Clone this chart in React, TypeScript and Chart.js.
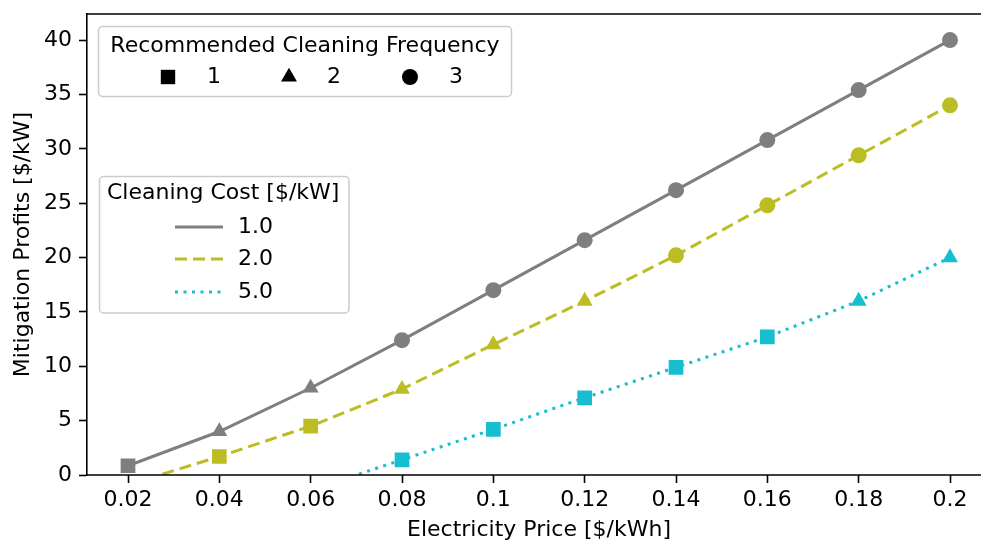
import { useEffect, useRef } from "react";
import { Chart, registerables } from "chart.js";

Chart.register(...registerables);

// Electricity price (x) in $/kWh
const prices = [0.02, 0.04, 0.06, 0.08, 0.1, 0.12, 0.14, 0.16, 0.18, 0.2];

// Mitigation profits in $/kW for each cleaning cost
const profitCost1 = [0.85, 4.0, 8.0, 12.4, 17.0, 21.6, 26.2, 30.8, 35.4, 40.0];
const profitCost2 = [-0.9, 1.7, 4.5, 7.9, 12.0, 16.0, 20.2, 24.8, 29.4, 34.0];
const profitCost5 = [null, null, -1.4, 1.4, 4.2, 7.1, 9.9, 12.7, 16.0, 20.0];

// Recommended cleaning frequency at each price
const freqCost1 = [1, 2, 2, 3, 3, 3, 3, 3, 3, 3];
const freqCost2 = [1, 1, 1, 2, 2, 2, 3, 3, 3, 3];
const freqCost5 = [1, 1, 1, 1, 1, 1, 1, 1, 2, 2];

const costLabels = ["1.0", "2.0", "5.0"];
const freqLabels = ["1", "2", "3"];

const xTicks = [0.02, 0.04, 0.06, 0.08, 0.1, 0.12, 0.14, 0.16, 0.18, 0.2];
const yTicks = [0, 5, 10, 15, 20, 25, 30, 35, 40];

const FONT = '"DejaVu Sans", sans-serif';
const FS = 22;
const GRAY = "#7f7f7f";
const OLIVE = "#bcbd22";
const CYAN = "#17becf";
const LINE_W = 3;
const DASH = [12, 6];
const DOT = [3, 5.5];
const SPINE_W = 1.6;

// pixel placement of the first and last price ticks
const X_FIRST_PX = 128;
const X_LAST_PX = 950;

const styleFor = (f: number) => (f === 1 ? "rect" : f === 2 ? "triangle" : "circle");
const radiusFor = (f: number) => (f === 1 ? 10.4 : f === 2 ? 9.2 : 8);

function series(
  label: string,
  values: (number | null)[],
  freqs: number[],
  color: string,
  dash: number[]
) {
  return {
    label,
    data: prices.map((x, i) => ({ x, y: values[i] })),
    borderColor: color,
    backgroundColor: color,
    borderWidth: LINE_W,
    borderDash: dash,
    pointStyle: freqs.map(styleFor),
    pointRadius: freqs.map(radiusFor),
    pointBackgroundColor: color,
    pointBorderColor: color,
    pointBorderWidth: 0,
    tension: 0,
  };
}

function roundRect(ctx: CanvasRenderingContext2D, x: number, y: number, w: number, h: number, r: number) {
  ctx.beginPath();
  ctx.moveTo(x + r, y);
  ctx.lineTo(x + w - r, y);
  ctx.arcTo(x + w, y, x + w, y + r, r);
  ctx.lineTo(x + w, y + h - r);
  ctx.arcTo(x + w, y + h, x + w - r, y + h, r);
  ctx.lineTo(x + r, y + h);
  ctx.arcTo(x, y + h, x, y + h - r, r);
  ctx.lineTo(x, y + r);
  ctx.arcTo(x, y, x + r, y, r);
  ctx.closePath();
}

function legendFrame(ctx: CanvasRenderingContext2D, x: number, y: number, w: number, h: number) {
  roundRect(ctx, x, y, w, h, 4);
  ctx.fillStyle = "rgba(255,255,255,0.8)";
  ctx.fill();
  ctx.strokeStyle = "#cccccc";
  ctx.lineWidth = 1.5;
  ctx.stroke();
}

function marker(ctx: CanvasRenderingContext2D, kind: number, cx: number, cy: number) {
  ctx.fillStyle = "#000";
  ctx.beginPath();
  if (kind === 1) {
    ctx.rect(cx - 7.2, cy - 7.2, 14.4, 14.4);
  } else if (kind === 2) {
    const r = 9.2;
    ctx.moveTo(cx, cy - r);
    ctx.lineTo(cx + r * Math.sin((2 * Math.PI) / 3), cy - r * Math.cos((2 * Math.PI) / 3));
    ctx.lineTo(cx + r * Math.sin((4 * Math.PI) / 3), cy - r * Math.cos((4 * Math.PI) / 3));
    ctx.closePath();
  } else {
    ctx.arc(cx, cy, 8, 0, Math.PI * 2);
  }
  ctx.fill();
}

const overlay = {
  id: "overlay",
  afterDraw(chart: Chart) {
    const { ctx, chartArea } = chart;
    ctx.save();

    // top and bottom spines, running to the canvas edge
    ctx.strokeStyle = "#000";
    ctx.lineWidth = SPINE_W;
    ctx.beginPath();
    ctx.moveTo(chartArea.left - SPINE_W / 2, chartArea.top);
    ctx.lineTo(chart.width, chartArea.top);
    ctx.moveTo(chartArea.left - SPINE_W / 2, chartArea.bottom);
    ctx.lineTo(chart.width, chartArea.bottom);
    ctx.stroke();

    // axis titles
    ctx.fillStyle = "#000";
    ctx.font = `${FS}px ${FONT}`;
    ctx.textAlign = "center";
    ctx.textBaseline = "middle";
    ctx.fillText("Electricity Price [$/kWh]", 539, 530);
    ctx.save();
    ctx.translate(23, (chartArea.top + chartArea.bottom) / 2);
    ctx.rotate(-Math.PI / 2);
    ctx.fillText("Mitigation Profits [$/kW]", 0, 0);
    ctx.restore();

    // frequency legend (markers)
    legendFrame(ctx, 98.5, 26.5, 413, 70);
    ctx.fillStyle = "#000";
    ctx.textAlign = "center";
    ctx.fillText("Recommended Cleaning Frequency", 305, 46);
    const mx = [168, 289, 410];
    const tx = [207, 327, 449];
    freqLabels.forEach((lab, i) => {
      marker(ctx, i + 1, mx[i], 77);
      ctx.fillStyle = "#000";
      ctx.textAlign = "left";
      ctx.fillText(lab, tx[i], 77);
    });

    // cleaning cost legend (line styles)
    legendFrame(ctx, 99.5, 176.5, 249.5, 136.5);
    ctx.fillStyle = "#000";
    ctx.textAlign = "left";
    ctx.fillText("Cleaning Cost [$/kW]", 107, 193);
    const colors = [GRAY, OLIVE, CYAN];
    const dashes = [[], DASH, DOT];
    const rows = [227, 259, 292];
    costLabels.forEach((lab, i) => {
      ctx.strokeStyle = colors[i];
      ctx.lineWidth = LINE_W;
      ctx.setLineDash(dashes[i]);
      ctx.beginPath();
      ctx.moveTo(175, rows[i]);
      ctx.lineTo(223, rows[i]);
      ctx.stroke();
      ctx.setLineDash([]);
      ctx.fillStyle = "#000";
      ctx.textAlign = "left";
      ctx.fillText(lab, 238, rows[i]);
    });

    ctx.restore();
  },
};

export default function App() {
  const ref = useRef<HTMLCanvasElement>(null);

  useEffect(() => {
    document.body.style.margin = "0";
    const chart = new Chart(ref.current!, {
      type: "line",
      data: {
        datasets: [
          series("1.0", profitCost1, freqCost1, GRAY, []),
          series("2.0", profitCost2, freqCost2, OLIVE, DASH),
          series("5.0", profitCost5, freqCost5, CYAN, DOT),
        ],
      },
      options: {
        responsive: false,
        animation: false,
        devicePixelRatio: 1,
        layout: { padding: { top: 14, left: 0, right: 0, bottom: 0 } },
        plugins: {
          legend: { display: false },
          tooltip: { enabled: false },
        },
        scales: {
          x: {
            type: "linear",
            min: 0.011,
            max: 0.2068,
            afterBuildTicks: (s: any) => {
              s.ticks = xTicks.map((v) => ({ value: v }));
            },
            afterFit: (s: any) => {
              s.height = 66;
              s.paddingLeft = 0;
              s.paddingRight = 0;
            },
            ticks: {
              font: { family: FONT, size: FS },
              color: "#000",
              padding: 4,
              maxRotation: 0,
              autoSkip: false,
              callback: (v: any) => String(parseFloat(Number(v).toFixed(2))),
            },
            grid: {
              drawOnChartArea: false,
              drawTicks: true,
              tickLength: 8,
              tickWidth: SPINE_W,
              tickColor: "#000",
            },
            border: { display: false },
          },
          y: {
            type: "linear",
            min: 0,
            max: 42.4,
            afterBuildTicks: (s: any) => {
              s.ticks = yTicks.map((v) => ({ value: v }));
            },
            afterFit: (s: any) => {
              s.width = 87;
              s.paddingTop = 0;
              s.paddingBottom = 0;
            },
            ticks: {
              font: { family: FONT, size: FS },
              color: "#000",
              padding: 7,
              autoSkip: false,
              callback: (v: any) => String(v),
            },
            grid: {
              drawOnChartArea: false,
              drawTicks: true,
              tickLength: 8,
              tickWidth: SPINE_W,
              tickColor: "#000",
            },
            border: { display: true, color: "#000", width: SPINE_W },
          },
        },
      },
      plugins: [overlay],
    });

    // fit the price range so the first/last ticks land at their pixel columns
    const area = chart.chartArea;
    const pxPerUnit = (X_LAST_PX - X_FIRST_PX) / (xTicks[xTicks.length - 1] - xTicks[0]);
    const xs: any = chart.options.scales!.x;
    xs.min = xTicks[0] - (X_FIRST_PX - area.left) / pxPerUnit;
    xs.max = xTicks[xTicks.length - 1] + (area.right - X_LAST_PX) / pxPerUnit;
    chart.update();

    return () => chart.destroy();
  }, []);

  return (
    <canvas
      ref={ref}
      width={981}
      height={541}
      style={{ display: "block", width: 981, height: 541 }}
    />
  );
}
